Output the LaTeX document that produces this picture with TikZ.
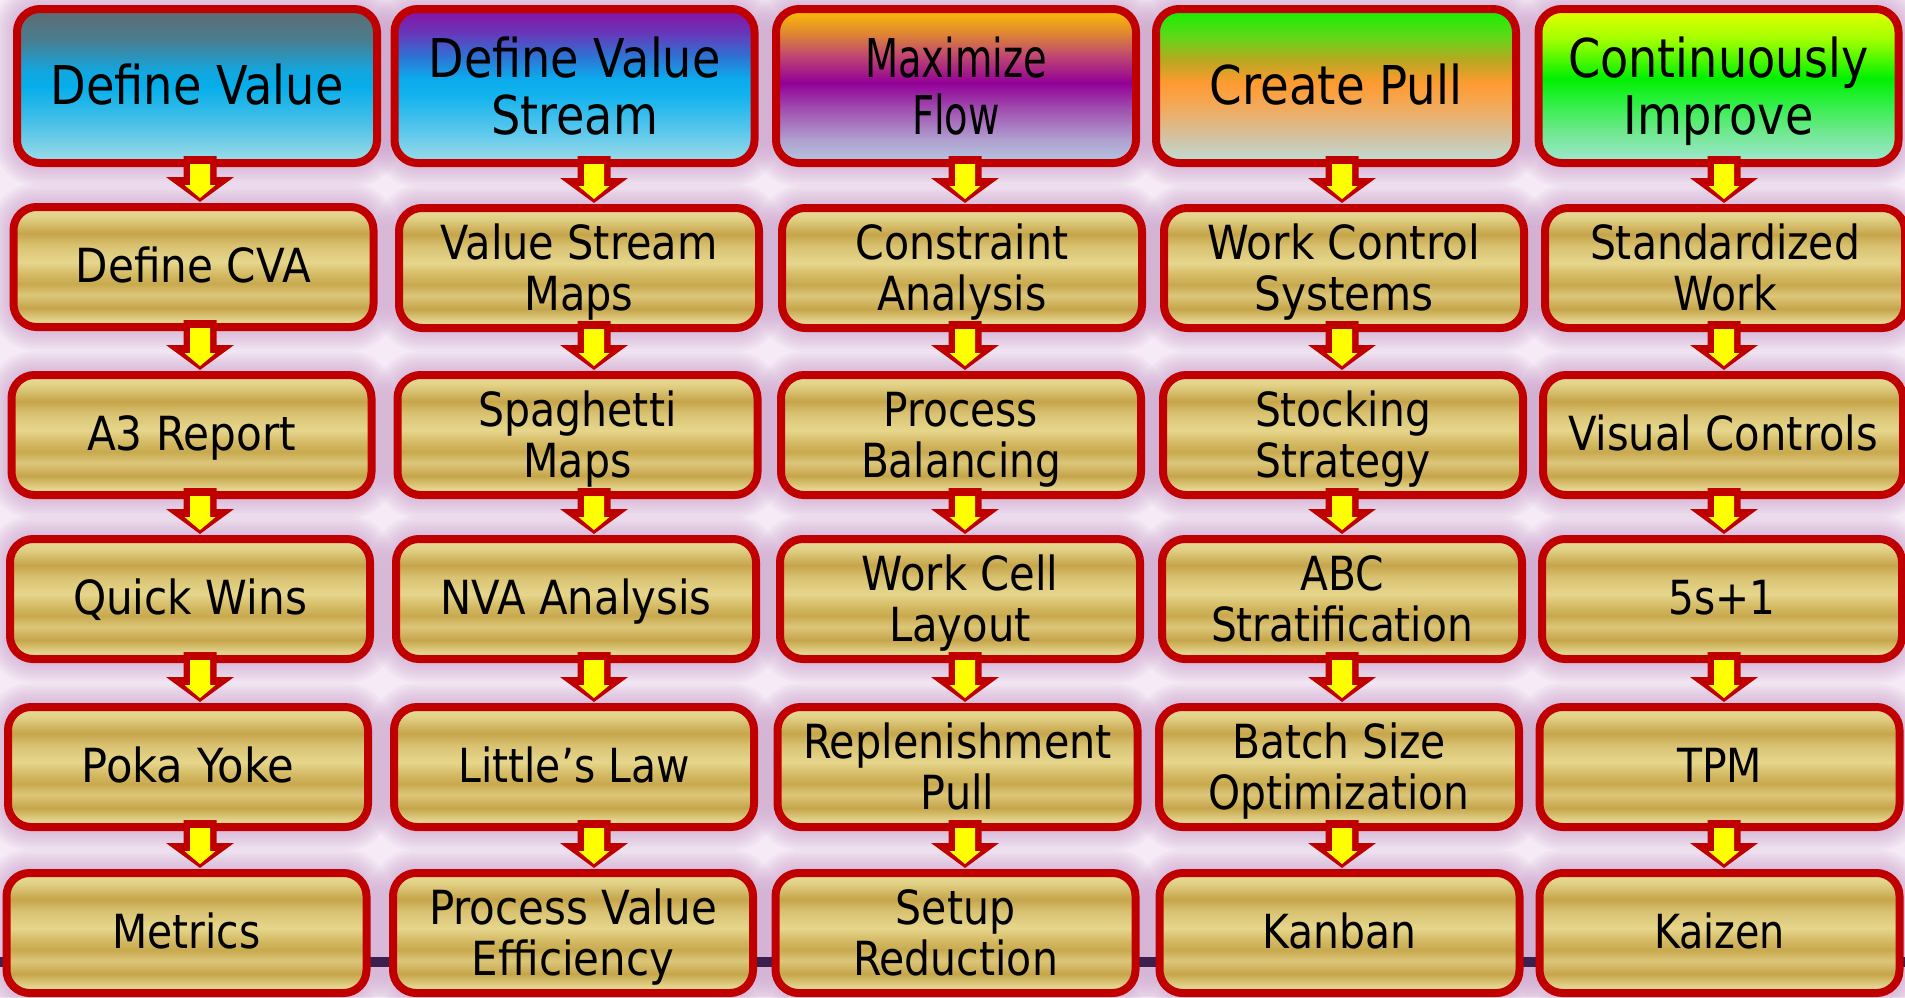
\documentclass[tikz,border=0pt]{standalone}
\usepackage{fontspec}
\usepackage{graphicx}
\setmainfont{DejaVu Sans}
\usetikzlibrary{calc}
\pgfdeclarelayer{backdrop}
\pgfsetlayers{backdrop,main}

% palette
\definecolor{boxred}{HTML}{C00000}
\definecolor{arrowfill}{HTML}{FFFF00}
\definecolor{paper}{HTML}{F5EAF5}
\definecolor{haloclr}{HTML}{C088C0}
\definecolor{railclr}{HTML}{3B1F4F}

% gold bars
\definecolor{gA}{HTML}{E9DC9C}
\definecolor{gB}{HTML}{E2D288}
\definecolor{gD}{HTML}{C6A54A}
\definecolor{gC}{HTML}{D9C272}
\definecolor{gL}{HTML}{E6D68C}
\definecolor{gM}{HTML}{D4BA64}
\definecolor{gE}{HTML}{C8A94E}
\definecolor{gF}{HTML}{DCC67A}
\definecolor{gG}{HTML}{E2D28A}
\definecolor{gH}{HTML}{E6D99A}
\pgfdeclareverticalshading{gold}{100bp}{color(0bp)=(gH); color(25bp)=(gH);
  color(28bp)=(gG); color(33bp)=(gD); color(38.5bp)=(gF); color(43bp)=(gE);
  color(47bp)=(gM); color(52bp)=(gL); color(59bp)=(gC); color(64bp)=(gD);
  color(71bp)=(gB); color(75bp)=(gA); color(100bp)=(gA)}

% header fills, bottom (25bp) to top (75bp)
\definecolor{hA0}{HTML}{5E6B70}\definecolor{hA1}{HTML}{4A7D90}
\definecolor{hA2}{HTML}{13A6DE}\definecolor{hA3}{HTML}{05AEEA}
\definecolor{hA4}{HTML}{3DBDE8}\definecolor{hA5}{HTML}{78D0E6}
\definecolor{hA6}{HTML}{A2DEE8}
\pgfdeclareverticalshading{hdA}{100bp}{color(0bp)=(hA6); color(25bp)=(hA6);
  color(31bp)=(hA5); color(40bp)=(hA4); color(50bp)=(hA3); color(55bp)=(hA2);
  color(65bp)=(hA1); color(75bp)=(hA0); color(100bp)=(hA0)}

\definecolor{hB0}{HTML}{8A0FA2}\definecolor{hB1}{HTML}{6A35B8}
\definecolor{hB2}{HTML}{3070D2}\definecolor{hB3}{HTML}{0CAAEC}
\definecolor{hB4}{HTML}{10B2EE}\definecolor{hB5}{HTML}{5CC8EC}
\definecolor{hB6}{HTML}{A0DCE8}
\pgfdeclareverticalshading{hdB}{100bp}{color(0bp)=(hB6); color(25bp)=(hB6);
  color(35bp)=(hB5); color(47.5bp)=(hB4); color(52.5bp)=(hB3); color(60bp)=(hB2);
  color(67.5bp)=(hB1); color(75bp)=(hB0); color(100bp)=(hB0)}

\definecolor{hC0}{HTML}{FFC000}\definecolor{hC1}{HTML}{E08A30}
\definecolor{hC2}{HTML}{C04870}\definecolor{hC3}{HTML}{920096}
\definecolor{hC4}{HTML}{A050B0}\definecolor{hC5}{HTML}{B0A0D0}
\definecolor{hC6}{HTML}{B4C8E0}
\pgfdeclareverticalshading{hdC}{100bp}{color(0bp)=(hC6); color(25bp)=(hC6);
  color(32.5bp)=(hC5); color(42.5bp)=(hC4); color(51bp)=(hC3); color(60bp)=(hC2);
  color(67.5bp)=(hC1); color(75bp)=(hC0); color(100bp)=(hC0)}

\definecolor{hD0}{HTML}{12F000}\definecolor{hD1}{HTML}{60D818}
\definecolor{hD2}{HTML}{B8A820}\definecolor{hD3}{HTML}{FF9A30}
\definecolor{hD4}{HTML}{F0AC60}\definecolor{hD5}{HTML}{D0C4A8}
\definecolor{hD6}{HTML}{BEE0D8}
\pgfdeclareverticalshading{hdD}{100bp}{color(0bp)=(hD6); color(25bp)=(hD6);
  color(32.5bp)=(hD5); color(42.5bp)=(hD4); color(51bp)=(hD3); color(58.5bp)=(hD2);
  color(66bp)=(hD1); color(75bp)=(hD0); color(100bp)=(hD0)}

\definecolor{hE0}{HTML}{E6FF00}\definecolor{hE1}{HTML}{A0FF00}
\definecolor{hE2}{HTML}{00F000}\definecolor{hE3}{HTML}{2CF040}
\definecolor{hE4}{HTML}{70E890}\definecolor{hE5}{HTML}{A2E8D2}
\pgfdeclareverticalshading{hdE}{100bp}{color(0bp)=(hE5); color(25bp)=(hE5);
  color(35bp)=(hE4); color(45bp)=(hE3); color(52.5bp)=(hE2); color(65bp)=(hE1);
  color(75bp)=(hE0); color(100bp)=(hE0)}

\newcommand\bodyfont{\fontsize{23.5pt}{25.5pt}\selectfont}
\newcommand\headfont{\fontsize{26.75pt}{28.25pt}\selectfont}
% centred label, squeezed to a given width, lowered so the capitals sit mid-box
\newcommand\lbl[3][-3.5pt]{\raisebox{#1}[\height][\depth]{%
  \resizebox{#2}{\height}{\begin{tabular}{@{}c@{}}#3\end{tabular}}}}

% block arrow from one box down to the next, on a column axis:
% a red outer shape with a yellow core laid over it
% (node anchors sit on the outer edge of the thick border)
\newcommand\flow[3]{%
  \fill[arrowrim]
    ($(#1 |- #2.south)+(-16.5,-11)$) -- ($(#1 |- #2.south)+(16.5,-11)$)
    -- ($(#1 |- #3.north)+(16.5,-26)$) -- ($(#1 |- #3.north)+(34,-26)$)
    -- ($(#1 |- #3.north)+(0,-1)$) -- ($(#1 |- #3.north)+(-34,-26)$)
    -- ($(#1 |- #3.north)+(-16.5,-26)$) -- cycle;
  \fill[arrowcore]
    ($(#1 |- #2.south)+(-10,-3)$) -- ($(#1 |- #2.south)+(10,-3)$)
    -- ($(#1 |- #3.north)+(10,-18)$) -- ($(#1 |- #3.north)+(15.5,-18)$)
    -- ($(#1 |- #3.north)+(0,-5)$) -- ($(#1 |- #3.north)+(-15.5,-18)$)
    -- ($(#1 |- #3.north)+(-10,-18)$) -- cycle;}

\tikzset{
  box/.style={draw=boxred, line width=4pt, rounded corners=11.5pt,
    minimum width=180pt, inner sep=0pt, align=center},
  goldbox/.style={box, shade, shading=gold, minimum height=60pt, font=\bodyfont},
  headbox/.style={box, shade, minimum height=77pt, font=\headfont},
  arrowrim/.style={fill=boxred},
  arrowcore/.style={fill=arrowfill},
}

\begin{document}
\begin{tikzpicture}[x=0.5pt, y=-0.5pt]
\useasboundingbox (0,0) rectangle (1905,997);

% column headers
\node[headbox, shading=hdA] (A0) at (197,86)    {\lbl[-3.5pt]{146.5pt}{Define Value}};
\node[headbox, shading=hdB] (B0) at (574.5,86)  {\lbl[-4pt]{146pt}{Define Value\\Stream}};
\node[headbox, shading=hdC] (C0) at (956,86)    {\lbl[-4pt]{91pt}{Maximize\\Flow}};
\node[headbox, shading=hdD] (D0) at (1336,86)   {\lbl[-3.5pt]{126.5pt}{Create Pull}};
\node[headbox, shading=hdE] (E0) at (1718.5,86) {\lbl[-4pt]{150.5pt}{Continuously\\Improve}};

% column 1
\node[goldbox] (A1) at (193.5,267) {\lbl[-2.5pt]{117.5pt}{Define CVA}};
\node[goldbox] (A2) at (191.5,435) {\lbl[-2.5pt]{104.5pt}{A3 Report}};
\node[goldbox] (A3) at (190,599)   {\lbl[-2.5pt]{117pt}{Quick Wins}};
\node[goldbox] (A4) at (188,767)   {\lbl[-2.5pt]{106.5pt}{Poka Yoke}};
\node[goldbox] (A5) at (186.5,933) {\lbl[-2.5pt]{74pt}{Metrics}};
% column 2
\node[goldbox] (B1) at (579,268)   {\lbl{138.5pt}{Value Stream\\Maps}};
\node[goldbox] (B2) at (577.5,435) {\lbl{99pt}{Spaghetti\\Maps}};
\node[goldbox] (B3) at (576,599)   {\lbl[-2.5pt]{135.5pt}{NVA Analysis}};
\node[goldbox] (B4) at (574,767)   {\lbl[-2.5pt]{115.5pt}{Little’s Law}};
\node[goldbox] (B5) at (573,933)   {\lbl{144pt}{Process Value\\Efficiency}};
% column 3
\node[goldbox] (C1) at (962,268)   {\lbl{106.5pt}{Constraint\\Analysis}};
\node[goldbox] (C2) at (961,435)   {\lbl{100pt}{Process\\Balancing}};
\node[goldbox] (C3) at (960,599)   {\lbl{98.5pt}{Work Cell\\Layout}};
\node[goldbox] (C4) at (957.5,767) {\lbl{154.5pt}{Replenishment\\Pull}};
\node[goldbox] (C5) at (955.5,933) {\lbl{102.5pt}{Setup\\Reduction}};
% column 4
\node[goldbox] (D1) at (1344,268)   {\lbl{136.5pt}{Work Control\\Systems}};
\node[goldbox] (D2) at (1343,435)   {\lbl{88pt}{Stocking\\Strategy}};
\node[goldbox] (D3) at (1342,599)   {\lbl{131pt}{ABC\\Stratification}};
\node[goldbox] (D4) at (1339,767)   {\lbl{130.5pt}{Batch Size\\Optimization}};
\node[goldbox] (D5) at (1339.5,933) {\lbl[-2.5pt]{77pt}{Kanban}};
% column 5
\node[goldbox] (E1) at (1725,268)   {\lbl{135pt}{Standardized\\Work}};
\node[goldbox] (E2) at (1723,435)   {\lbl[-2.5pt]{155pt}{Visual Controls}};
\node[goldbox] (E3) at (1722,599)   {\lbl[-2.5pt]{53.5pt}{5s+1}};
\node[goldbox] (E4) at (1719.5,767) {\lbl[-2.5pt]{42.5pt}{TPM}};
\node[goldbox] (E5) at (1719.5,933) {\lbl[-2.5pt]{65.5pt}{Kaizen}};

% backdrop: paper, soft glow round every box, dark rail
\begin{pgfonlayer}{backdrop}
  \fill[paper] (0,0) rectangle (1905,997);
  \foreach \n in {A0,A1,A2,A3,A4,A5,B0,B1,B2,B3,B4,B5,C0,C1,C2,C3,C4,C5,
                  D0,D1,D2,D3,D4,D5,E0,E1,E2,E3,E4,E5} {
    \foreach \k in {0,2,...,20} {
      \pgfmathsetmacro\rr{13.5+\k*0.5}
      \fill[haloclr, opacity=0.05, rounded corners=\rr pt]
        ($(\n.south west)+(-\k,\k)$) rectangle ($(\n.north east)+(\k,-\k)$);
    }
  }
  \fill[railclr] (0,957) rectangle (1905,967);
\end{pgfonlayer}

% column axes for the arrows
\coordinate (axA) at (200,0);
\coordinate (axB) at (594,0);
\coordinate (axC) at (965,0);
\coordinate (axD) at (1342,0);
\coordinate (axE) at (1724,0);

\foreach \c in {A,B,C,D,E} {
  \foreach \i [evaluate=\i as \j using int(\i+1)] in {0,...,4} {
    \flow{ax\c}{\c\i}{\c\j}
  }
}
\end{tikzpicture}
\end{document}
